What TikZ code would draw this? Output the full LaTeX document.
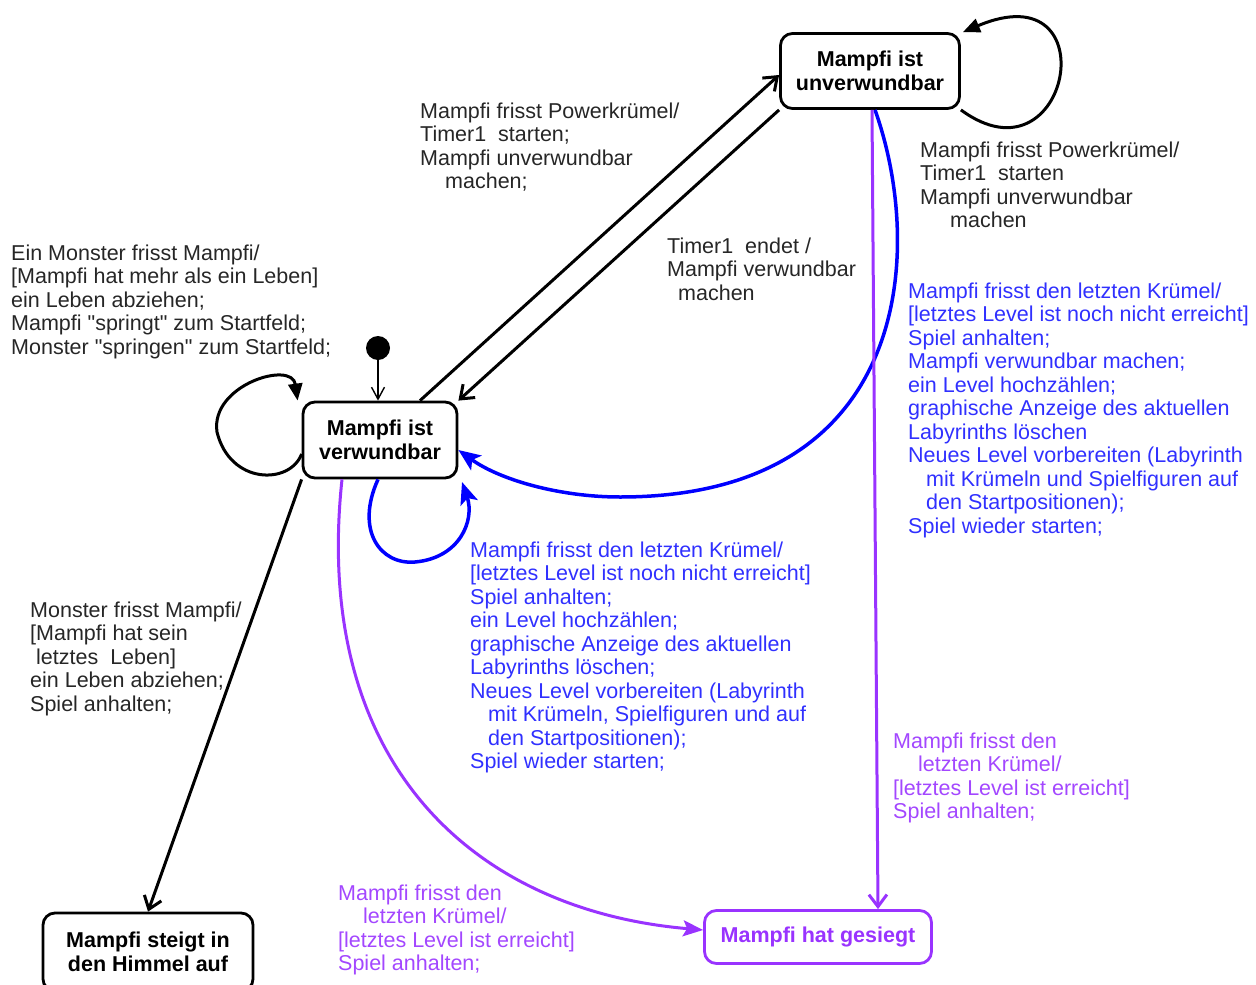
\documentclass[tikz,border=0pt]{standalone}
\usepackage{fontspec}
\setmainfont{Liberation Sans}[Ligatures=TeXOff]
\usetikzlibrary{arrows.meta}
\definecolor{lila}{HTML}{9933FF}
\definecolor{lilatext}{HTML}{A347FF}
\definecolor{blautext}{HTML}{3030FF}
\tikzset{
  st/.style={draw=black, rounded corners=12pt, line width=2.8pt, align=center,
             inner sep=0pt, font=\bfseries\fontsize{21.5}{24}\selectfont},    % state
  tr/.style={draw=black, line width=3pt, -{Straight Barb[length=12pt,width=18pt]}}, % transition
  lp/.style={draw=black, line width=3pt, -{Triangle[length=17pt,width=14pt]}},      % self loop
  bl/.style={draw=blue, line width=3.5pt, -{Stealth[length=22pt,width=18pt,inset=5pt]}},
  li/.style={draw=lila, line width=3pt},
  note/.style={anchor=north west, inner sep=0pt, align=left,
               font=\fontsize{21.5}{23.5}\selectfont, text=black!85},
}

\begin{document}
\begin{tikzpicture}[x=1pt, y=-1pt]
  \useasboundingbox (0,0) rectangle (1256,985);
  % states
  \node[st, minimum width=179pt, minimum height=75pt] (unv)  at (870,71)  {Mampfi ist\\unverwundbar};
  \node[st, minimum width=154pt, minimum height=76pt] (verw) at (380,440) {Mampfi ist\\verwundbar};
  \node[st, minimum width=210pt, minimum height=78pt] (himmel) at (148,952) {Mampfi steigt in\\den Himmel auf};
  \node[st, draw=lila, text=lila, minimum width=227pt, minimum height=53pt] (sieg) at (818,937) {Mampfi hat gesiegt};
  \node[circle, fill=black, minimum size=24pt, inner sep=0pt] (init) at (378,348) {};

  % black transitions
  \draw[draw=black, line width=1.4pt, -{Straight Barb[length=12pt,width=13pt]}] (init) -- ([xshift=-2pt]verw.north);
  \draw[tr] ([xshift=40pt]verw.north) -- ([yshift=-4pt]unv.west);
  \draw[tr] (unv.south west) -- (verw.north east);
  \draw[tr] (verw.south west) -- (himmel.north);
  \draw[lp] (unv.south east) .. controls (1070,190) and (1110,-30) .. ([xshift=2pt]unv.north east);
  \draw[lp] ([yshift=-14pt]verw.west) .. controls (290,485) and (230,485) .. (217,432)
            .. controls (210,385) and (292,360) .. ([xshift=-4pt]verw.north west);

  % blue transitions
  \draw[bl] ([xshift=5pt]unv.south) .. controls (925,250) and (912,497) .. (620,497)
            .. controls (560,497) and (500,480) .. ([yshift=-10pt]verw.east);
  \draw[bl] ([xshift=-2pt]verw.south) .. controls (355,530) and (380,565) .. (415,562)
            .. controls (460,558) and (475,520) .. (462,482);

  % purple transitions
  \draw[li, -{Straight Barb[length=12pt,width=18pt]}] ([xshift=2pt]unv.south) -- ([xshift=60pt]sieg.north);
  \draw[li, -{Stealth[length=20pt,width=16pt,inset=4pt]}] ([xshift=-38pt]verw.south)
            .. controls (312,760) and (470,910) .. ([yshift=7pt]sieg.west);

  % labels
  \node[note] (lblPowerA) at (420,101.5) {\strut Mampfi frisst Powerkrümel/\\Timer1\ \ starten;\\Mampfi unverwundbar\\\hspace*{25pt}machen;};
  \node[note] (lblPowerB) at (920,140.5) {\strut Mampfi frisst Powerkrümel/\\Timer1\ \ starten\\Mampfi unverwundbar\\\hspace*{30pt}machen};
  \node[note] (lblTimer) at (667,236.5) {\strut Timer1\ \ endet /\\Mampfi verwundbar\\\hspace*{11pt}machen};
  \node[note] (lblMonster) at (11,243.5) {\strut Ein Monster frisst Mampfi/\\{}[Mampfi hat mehr als ein Leben]\\ein Leben abziehen;\\Mampfi "springt" zum Startfeld;\\Monster "springen" zum Startfeld;};
  \node[note] (lblTod) at (30,600.5) {\strut Monster frisst Mampfi/\\{}[Mampfi hat sein\\\hspace*{6pt}letztes\ \ Leben]\\ein Leben abziehen;\\Spiel anhalten;};
  \node[note, text=blautext] (lblLevelA) at (908,281.5) {\strut Mampfi frisst den letzten Krümel/\\{}[letztes Level ist noch nicht erreicht]\\Spiel anhalten;\\Mampfi verwundbar machen;\\ein Level hochzählen;\\graphische Anzeige des aktuellen\\Labyrinths löschen\\Neues Level vorbereiten (Labyrinth\\\hspace*{18pt}mit Krümeln und Spielfiguren auf\\\hspace*{18pt}den Startpositionen);\\Spiel wieder starten;};
  \node[note, text=blautext] (lblLevelB) at (470,540.5) {\strut Mampfi frisst den letzten Krümel/\\{}[letztes Level ist noch nicht erreicht]\\Spiel anhalten;\\ein Level hochzählen;\\graphische Anzeige des aktuellen\\Labyrinths löschen;\\Neues Level vorbereiten (Labyrinth\\\hspace*{18pt}mit Krümeln, Spielfiguren und auf\\\hspace*{18pt}den Startpositionen);\\Spiel wieder starten;};
  \node[note, text=lilatext] (lblSiegA) at (893,731.5) {\strut Mampfi frisst den\\\hspace*{25pt}letzten Krümel/\\{}[letztes Level ist erreicht]\\Spiel anhalten;};
  \node[note, text=lilatext] (lblSiegB) at (338,883.5) {\strut Mampfi frisst den\\\hspace*{25pt}letzten Krümel/\\{}[letztes Level ist erreicht]\\Spiel anhalten;};
\end{tikzpicture}
\end{document}
